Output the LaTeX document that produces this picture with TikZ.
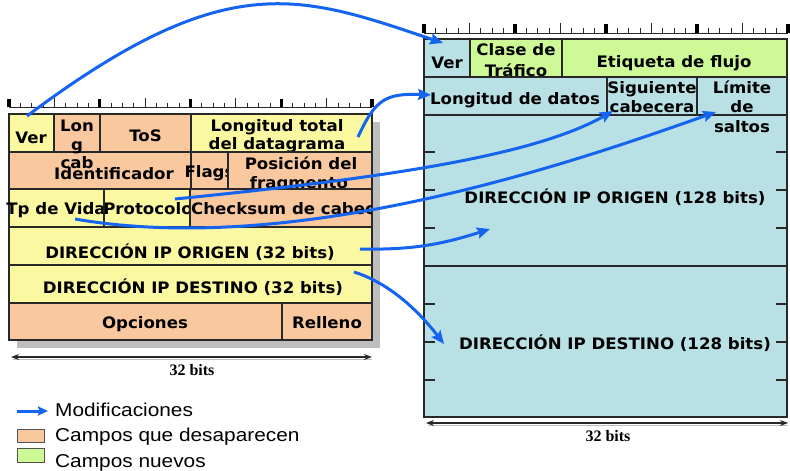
\documentclass[tikz,border=0pt]{standalone}
\usepackage{fontspec}
\usetikzlibrary{arrows.meta}
\newfontfamily\tfont[FakeStretch=1.05]{DejaVu Sans}
\newfontfamily\lfont[FakeStretch=1.12]{Liberation Sans}
\newfontfamily\rfont{Liberation Serif}
\definecolor{yel}{RGB}{250,248,160}
\definecolor{org}{RGB}{249,200,158}
\definecolor{blu}{RGB}{185,224,228}
\definecolor{grn}{RGB}{205,250,150}
\definecolor{arw}{RGB}{20,100,240}
\definecolor{edge}{RGB}{40,40,40}
\definecolor{shad}{RGB}{190,190,190}
\newcommand{\mycell}[6]{\node[cellbox, fill=#6, minimum width={(#4)-(#2)}, minimum height={(#5)-(#3)}] (#1) at (#2,#3) {};}
\begin{document}
\begin{tikzpicture}[x=1pt,y=-1pt,
  cellbox/.style={draw=edge, line width=1.4pt, inner sep=0pt, outer sep=0pt, anchor=north west},
  lbl/.style={font=\tfont\bfseries\fontsize{15.8}{18}\selectfont, inner sep=0pt, anchor=base},
  legtxt/.style={font=\lfont\fontsize{18.6}{22}\selectfont, inner sep=0pt, anchor=base west},
  bitstxt/.style={font=\rfont\bfseries\fontsize{16}{18}\selectfont, inner sep=0pt, anchor=base},
  rul/.style={draw=edge, line width=0.8pt},
  bitarrow/.style={draw=edge, line width=1.6pt, {Stealth[length=8pt,width=6pt]}-{Stealth[length=8pt,width=6pt]}},
  mod/.style={draw=arw, line width=3pt, -{Stealth[length=13pt,width=11pt,inset=2pt]}},
  legbox/.style={draw=edge!80, line width=1pt, inner sep=0pt, outer sep=0pt, anchor=north west}
]
\useasboundingbox (0,0) rectangle (790,471);

% ---------- left ruler ----------
\draw[rul] (9,107) -- (372,107);
\foreach \i in {0,...,32}{
  \pgfmathsetmacro\xx{9+\i*363/32}
  \pgfmathtruncatemacro\mA{mod(\i,8)}
  \pgfmathtruncatemacro\mB{mod(\i,4)}
  \ifnum\mA=0 \fill[black] (\xx-1.6,99) rectangle (\xx+1.6,107);
  \else\ifnum\mB=0 \draw[rul] (\xx,98) -- (\xx,107);
  \else \draw[rul] (\xx,103) -- (\xx,107); \fi\fi
}

% ---------- left table ----------
\fill[shad] (17,122) rectangle (380,348);
\mycell{ver4}{9}{114}{54}{152}{yel}
\node[lbl] (lver4) at (31,143) {Ver};
\mycell{lcab}{54}{114}{100}{152}{org}
\mycell{tos}{100}{114}{191}{152}{org}
\node[lbl] (ltos) at (145.5,141) {ToS};
\mycell{ltot}{191}{114}{372}{152}{yel}
\node[lbl] (lltot1) at (277,131) {Longitud total};
\node[lbl] (lltot2) at (277,149) {del datagrama};

\mycell{ident}{9}{152}{191}{189}{org}
\node[lbl] (lident) at (114,179) {Identificador};
\mycell{flags}{191}{152}{228}{189}{org}
\node[lbl] (lflags) at (209.5,177) {Flags};
\mycell{posf}{228}{152}{372}{189}{org}
\node[lbl] (lposf1) at (301,169) {Posición del};
\node[lbl] (lposf2) at (299,188) {fragmento};

\node[lbl] (llcab1) at (77,131) {Lon};
\node[lbl] (llcab2) at (77,150) {g};
\node[lbl] (llcab3) at (77,168) {cab};

\mycell{ttl}{9}{189}{104}{227}{yel}
\node[lbl] (lttl) at (56,214) {Tp de Vida};
\mycell{prot}{104}{189}{190}{227}{yel}
\node[lbl] (lprot) at (148,214) {Protocolo};
\mycell{chk}{190}{189}{372}{227}{org}
\begin{scope}
  \clip (191,190) rectangle (371,226);
  \node[lbl, anchor=base west] (lchk) at (191,214) {Checksum de cabecera};
\end{scope}

\mycell{src4}{9}{227}{372}{265}{yel}
\node[lbl] (lsrc4) at (190,258) {DIRECCIÓN IP ORIGEN (32 bits)};
\mycell{dst4}{9}{265}{372}{303}{yel}
\node[lbl] (ldst4) at (193,293) {DIRECCIÓN IP DESTINO (32 bits)};
\mycell{opc}{9}{303}{282}{340}{org}
\node[lbl] (lopc) at (145,328) {Opciones};
\mycell{rell}{282}{303}{372}{340}{org}
\node[lbl] (lrell) at (327,328) {Relleno};

\coordinate (lbA) at (11,357);
\coordinate (lbB) at (372,357);
\draw[draw=shad, line width=1.6pt] (13,359.5) -- (372,359.5);
\draw[bitarrow] (lbA) -- (lbB);
\node[bitstxt] (lbits) at (192,375) {32 bits};

% ---------- right ruler ----------
\draw[rul] (424,33) -- (788,33);
\foreach \i in {0,...,32}{
  \pgfmathsetmacro\xx{424+\i*364/32}
  \pgfmathtruncatemacro\mA{mod(\i,8)}
  \pgfmathtruncatemacro\mB{mod(\i,4)}
  \ifnum\mA=0 \fill[black] (\xx-1.6,24) rectangle (\xx+1.6,33);
  \else\ifnum\mB=0 \draw[rul] (\xx,23) -- (\xx,33);
  \else \draw[rul] (\xx,28) -- (\xx,33); \fi\fi
}

% ---------- right table ----------
\mycell{ver6}{424}{39}{470}{77}{blu}
\node[lbl] (lver6) at (447,68) {Ver};
\mycell{clase}{470}{39}{562}{77}{grn}
\node[lbl] (lclase1) at (516,55) {Clase de};
\node[lbl] (lclase2) at (516,76) {Tráfico};
\mycell{etiq}{562}{39}{787}{77}{grn}
\node[lbl] (letiq) at (674,67) {Etiqueta de flujo};

\mycell{plen}{424}{77}{607}{115}{blu}
\node[lbl] (lplen) at (515,104) {Longitud de datos};
\mycell{sig}{607}{77}{697}{115}{blu}
\node[lbl] (lsig1) at (652,93) {Siguiente};
\node[lbl] (lsig2) at (652,112) {cabecera};
\mycell{lim}{697}{77}{787}{115}{blu}

\mycell{src6}{424}{115}{787}{266}{blu}
\mycell{dst6}{424}{266}{787}{417}{blu}
\foreach \yy in {152,190,228,304,342,380}{
  \draw[rul, line width=1.2pt] (424,\yy) -- (435,\yy);
  \draw[rul, line width=1.2pt] (776,\yy) -- (787,\yy);
}
\node[lbl] (llim1) at (742,93) {Límite};
\node[lbl] (llim2) at (742,112) {de};
\node[lbl] (llim3) at (742,132) {saltos};
\node[lbl] (lsrc6) at (615,203) {DIRECCIÓN IP ORIGEN (128 bits)};
\node[lbl] (ldst6) at (615,349) {DIRECCIÓN IP DESTINO (128 bits)};

\coordinate (rbA) at (426,423);
\coordinate (rbB) at (788,423);
\draw[draw=shad, line width=1.6pt] (428,425.5) -- (788,425.5);
\draw[bitarrow] (rbA) -- (rbB);
\node[bitstxt] (rbits) at (608,441) {32 bits};

% ---------- legend ----------
\coordinate (legA) at (17,411);
\coordinate (legB) at (48,411);
\draw[mod, -{Stealth[length=10pt,width=9pt,inset=1.5pt]}] (legA) -- (legB);
\node[legtxt] (lmod) at (55,416) {Modificaciones};
\node[legbox, fill=org, minimum width=27pt, minimum height=13pt] (legorg) at (17,429) {};
\node[legtxt] (ldes) at (55,441) {Campos que desaparecen};
\node[legbox, fill=grn, minimum width=27pt, minimum height=14pt] (leggrn) at (17,448) {};
\node[legtxt] (lnue) at (55,467) {Campos nuevos};

% ---------- modification arrows ----------
\coordinate (m1s) at (27,116);   \coordinate (m1e) at (443,43);
\coordinate (m2s) at (358,137);  \coordinate (m2e) at (431,95);
\coordinate (m3s) at (175,199);  \coordinate (m3e) at (613,111);
\coordinate (m4s) at (75,219);   \coordinate (m4e) at (716,112);
\coordinate (m5s) at (360,249);  \coordinate (m5e) at (490,229);
\coordinate (m6s) at (354,272);  \coordinate (m6e) at (444,344);
\draw[mod] (m1s) .. controls (227,-34) and (300,-5) .. (m1e);
\draw[mod] (m2s) .. controls (375,100) and (385,93) .. (m2e);
\draw[mod] (m3s) .. controls (375,179) and (532,157) .. (m3e);
\draw[mod] (m4s) .. controls (300,258) and (580,160) .. (m4e);
\draw[mod] (m5s) .. controls (410,250) and (440,245) .. (m5e);
\draw[mod] (m6s) .. controls (380,280) and (410,300) .. (m6e);
\end{tikzpicture}
\end{document}
